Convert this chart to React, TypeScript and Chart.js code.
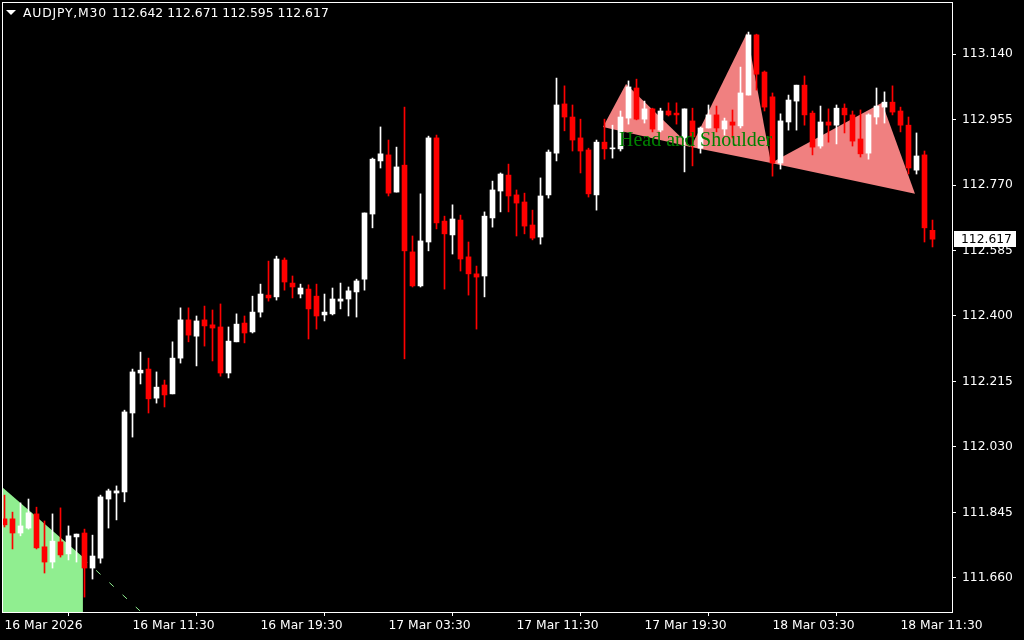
import React, { useEffect, useRef } from "react";
import { Chart, registerables } from "chart.js";

Chart.register(...registerables);

const symbolTitle = "AUDJPY,M30";

// M30 candles, 16 Mar 2026 03:30 -> 18 Mar 2026 13:30
const barOpen = [
  111.827, 111.827, 111.787, 111.801, 111.841, 111.748, 111.705, 111.762, 111.728, 111.776,
  111.787, 111.688, 111.716, 111.883, 111.900, 111.903, 112.126, 112.239, 112.250, 112.168,
  112.205, 112.180, 112.281, 112.389, 112.343, 112.389, 112.375, 112.369, 112.239, 112.327,
  112.380, 112.355, 112.411, 112.459, 112.454, 112.558, 112.493, 112.462, 112.476, 112.456,
  112.403, 112.406, 112.442, 112.448, 112.468, 112.504, 112.688, 112.838, 112.855, 112.750,
  112.826, 112.581, 112.485, 112.609, 112.903, 112.668, 112.629, 112.671, 112.567, 112.519,
  112.513, 112.677, 112.753, 112.798, 112.742, 112.722, 112.657, 112.623, 112.742, 112.860,
  112.999, 112.962, 112.903, 112.869, 112.742, 112.891, 112.872, 112.872, 112.959, 113.044,
  112.956, 112.985, 112.925, 112.979, 112.973, 112.903, 112.951, 112.874, 112.931, 112.968,
  112.928, 112.948, 112.937, 113.024, 113.194, 113.089, 113.019, 112.832, 112.948, 113.007,
  113.052, 112.973, 112.880, 112.948, 112.939, 112.987, 112.968, 112.900, 112.860, 112.962,
  112.990, 113.004, 112.979, 112.939, 112.812, 112.855, 112.642,
];
const barHigh = [
  111.894, 111.846, 111.872, 111.883, 111.860, 111.821, 111.841, 111.858, 111.807, 111.784,
  111.798, 111.781, 111.894, 111.911, 111.920, 112.134, 112.250, 112.298, 112.281, 112.242,
  112.219, 112.327, 112.423, 112.423, 112.400, 112.428, 112.417, 112.434, 112.369, 112.406,
  112.400, 112.456, 112.490, 112.555, 112.569, 112.564, 112.513, 112.490, 112.488, 112.490,
  112.462, 112.479, 112.493, 112.482, 112.504, 112.691, 112.846, 112.934, 112.897, 112.877,
  112.990, 112.626, 112.745, 112.908, 112.911, 112.682, 112.714, 112.685, 112.609, 112.541,
  112.694, 112.781, 112.804, 112.829, 112.756, 112.747, 112.699, 112.790, 112.869, 113.072,
  113.050, 112.996, 112.956, 112.874, 112.897, 112.956, 112.939, 112.979, 113.064, 113.069,
  113.007, 112.987, 112.987, 113.002, 113.002, 112.985, 112.987, 112.934, 112.996, 112.993,
  112.959, 112.982, 113.103, 113.202, 113.196, 113.092, 113.030, 112.971, 113.024, 113.052,
  113.078, 112.979, 112.993, 112.985, 112.996, 112.999, 112.979, 112.982, 112.971, 113.044,
  113.033, 113.050, 112.990, 112.962, 112.917, 112.866, 112.671,
];
const barLow = [
  111.804, 111.742, 111.779, 111.798, 111.742, 111.674, 111.688, 111.719, 111.711, 111.705,
  111.606, 111.657, 111.702, 111.801, 111.824, 111.875, 112.058, 112.208, 112.126, 112.154,
  112.143, 112.180, 112.267, 112.327, 112.259, 112.315, 112.273, 112.230, 112.225, 112.327,
  112.324, 112.352, 112.397, 112.442, 112.445, 112.473, 112.451, 112.451, 112.335, 112.363,
  112.386, 112.403, 112.420, 112.400, 112.397, 112.473, 112.649, 112.818, 112.739, 112.750,
  112.279, 112.482, 112.482, 112.584, 112.646, 112.476, 112.575, 112.527, 112.459, 112.363,
  112.454, 112.651, 112.694, 112.694, 112.626, 112.632, 112.615, 112.603, 112.733, 112.838,
  112.923, 112.866, 112.804, 112.736, 112.699, 112.843, 112.846, 112.866, 112.942, 112.954,
  112.945, 112.920, 112.920, 112.965, 112.942, 112.807, 112.824, 112.860, 112.931, 112.920,
  112.911, 112.903, 112.931, 113.024, 113.038, 112.979, 112.795, 112.815, 112.925, 112.925,
  112.939, 112.855, 112.874, 112.891, 112.886, 112.917, 112.880, 112.849, 112.843, 112.942,
  112.945, 112.968, 112.920, 112.801, 112.801, 112.609, 112.595,
];
const barClose = [
  111.810, 111.787, 111.807, 111.844, 111.745, 111.705, 111.764, 111.725, 111.779, 111.784,
  111.688, 111.722, 111.889, 111.906, 111.906, 112.129, 112.242, 112.247, 112.166, 112.199,
  112.177, 112.281, 112.389, 112.346, 112.386, 112.372, 112.366, 112.239, 112.329, 112.377,
  112.352, 112.411, 112.462, 112.451, 112.561, 112.496, 112.482, 112.479, 112.420, 112.400,
  112.411, 112.448, 112.448, 112.471, 112.499, 112.691, 112.843, 112.858, 112.747, 112.821,
  112.584, 112.485, 112.612, 112.903, 112.663, 112.632, 112.674, 112.561, 112.519, 112.510,
  112.682, 112.756, 112.801, 112.739, 112.719, 112.654, 112.620, 112.739, 112.863, 112.996,
  112.962, 112.897, 112.866, 112.745, 112.891, 112.872, 112.874, 112.962, 113.047, 112.956,
  112.985, 112.928, 112.979, 112.968, 112.968, 112.985, 112.906, 112.931, 112.968, 112.931,
  112.951, 112.939, 113.030, 113.194, 113.083, 112.990, 112.832, 112.951, 113.010, 113.052,
  112.968, 112.877, 112.948, 112.939, 112.987, 112.968, 112.894, 112.858, 112.968, 112.993,
  113.004, 112.976, 112.939, 112.818, 112.852, 112.649, 112.617,
];

const timeTickIndex = [0, 16, 32, 48, 64, 80, 96, 112];
const timeTickLabels = [
  "16 Mar 2026", "16 Mar 11:30", "16 Mar 19:30", "17 Mar 03:30",
  "17 Mar 11:30", "17 Mar 19:30", "18 Mar 03:30", "18 Mar 11:30",
];
const priceTicks = [111.66, 111.845, 112.03, 112.215, 112.4, 112.585, 112.77, 112.955, 113.14];

// Head and Shoulder pattern vertices (bar index, price)
const patternX = [74.81, 77.69, 85.81, 92.81, 95.81, 109.69, 113.81];
const patternY = [112.934, 113.055, 112.877, 113.199, 112.832, 113.002, 112.745];
const patternLabel = "Head and Shoulder";
const patternLabelX = 76.81;
const patternLabelY = 112.88;

// green channel area (bottom-left) and its dashed continuation
const channelX = [-0.3125, 9.8];
const channelY = [111.917, 111.719];
const dashX = [9.8, 16.94];
const dashY = [111.716, 111.567];

const X_MIN = -0.3125;
const X_MAX = 118.4375;
const Y_MIN = 111.5639;
const Y_MAX = 113.2869;

const BULL = "#ffffff";
const BEAR = "#ff0000";
const FONT = '"DejaVu Sans", sans-serif';

export default function App() {
  const ref = useRef<HTMLCanvasElement>(null);

  useEffect(() => {
    document.body.style.margin = "0";
    document.body.style.background = "#000";
    const canvas = ref.current;
    if (!canvas) return;

    const idx = barOpen.map((_, i) => i);
    const colors = idx.map((i) => (barClose[i] >= barOpen[i] ? BULL : BEAR));

    const overlay = {
      id: "mtOverlay",
      beforeDraw(chart: any) {
        const c = chart.ctx;
        c.save();
        c.fillStyle = "#000";
        c.fillRect(0, 0, chart.width, chart.height);
        c.restore();
      },
      beforeDatasetsDraw(chart: any) {
        const c = chart.ctx;
        const xs = chart.scales.x;
        const ys = chart.scales.y;
        const a = chart.chartArea;
        const px = (v: number) => xs.getPixelForValue(v);
        const py = (v: number) => ys.getPixelForValue(v);
        c.save();
        c.beginPath();
        c.rect(a.left, a.top, a.right - a.left, a.bottom - a.top);
        c.clip();
        // green area
        c.fillStyle = "#90ee90";
        c.beginPath();
        c.moveTo(px(channelX[0]), py(channelY[0]));
        c.lineTo(px(channelX[1]), py(channelY[1]));
        c.lineTo(px(channelX[1]), a.bottom + 2);
        c.lineTo(px(channelX[0]), a.bottom + 2);
        c.closePath();
        c.fill();
        // dashed line
        c.strokeStyle = "#90ee90";
        c.lineWidth = 1;
        c.setLineDash([6, 12]);
        c.beginPath();
        c.moveTo(px(dashX[0]), py(dashY[0]));
        c.lineTo(px(dashX[1]), py(dashY[1]));
        c.stroke();
        c.setLineDash([]);
        // triangles
        c.fillStyle = "#f08080";
        for (let t = 0; t < 3; t++) {
          const k = t * 2;
          c.beginPath();
          c.moveTo(px(patternX[k]), py(patternY[k]));
          c.lineTo(px(patternX[k + 1]), py(patternY[k + 1]));
          c.lineTo(px(patternX[k + 2]), py(patternY[k + 2]));
          c.closePath();
          c.fill();
        }
        c.restore();
      },
      afterDatasetsDraw(chart: any) {
        const c = chart.ctx;
        const xs = chart.scales.x;
        const ys = chart.scales.y;
        c.save();
        c.font = '20px "Liberation Serif", serif';
        c.fillStyle = "#008000";
        c.textBaseline = "alphabetic";
        c.textAlign = "left";
        c.fillText(patternLabel, xs.getPixelForValue(patternLabelX), ys.getPixelForValue(patternLabelY));
        c.restore();
      },
      afterDraw(chart: any) {
        const c = chart.ctx;
        const a = chart.chartArea;
        const ys = chart.scales.y;
        c.save();
        // frame
        c.strokeStyle = "#ffffff";
        c.lineWidth = 1;
        c.strokeRect(a.left + 0.5, a.top + 0.5, a.right - a.left, a.bottom - a.top);
        // header
        c.fillStyle = "#ffffff";
        c.beginPath();
        c.moveTo(6, 10);
        c.lineTo(16, 10);
        c.lineTo(11, 15);
        c.closePath();
        c.fill();
        c.font = "12.4px " + FONT;
        c.textBaseline = "middle";
        c.textAlign = "left";
        const last = barOpen.length - 1;
        (c as any).letterSpacing = "0.8px";
        c.fillText(symbolTitle, 23, 13.5);
        (c as any).letterSpacing = "0px";
        const vals = [barOpen[last], barHigh[last], barLow[last], barClose[last]].map((v) => v.toFixed(3));
        c.fillText(vals.join(" "), 112, 13.5);
        // current price box
        const yp = Math.round(ys.getPixelForValue(barClose[last]));
        c.fillStyle = "#ffffff";
        c.fillRect(954, yp - 8, 62, 16);
        c.fillStyle = "#000000";
        c.font = "12.3px " + FONT;
        c.fillText(barClose[last].toFixed(3), 961, yp + 0.5);
        c.restore();
      },
    };

    const chart = new Chart(canvas, {
      type: "bar",
      data: {
        datasets: [
          {
            label: "wick",
            data: idx.map((i) => ({ x: i, y: [barLow[i], barHigh[i]] })) as any,
            backgroundColor: colors,
            barThickness: 1,
            grouped: false,
            borderWidth: 0,
            minBarLength: 1,
          } as any,
          {
            label: "body",
            data: idx.map((i) => ({ x: i, y: [barOpen[i], barClose[i]] })) as any,
            backgroundColor: colors,
            barThickness: 5,
            grouped: false,
            borderWidth: 0,
            minBarLength: 1,
          } as any,
        ],
      },
      options: {
        animation: false,
        responsive: false,
        devicePixelRatio: 1,
        events: [],
        layout: { padding: { left: 2, top: 2, right: 0, bottom: 0 } },
        plugins: { legend: { display: false }, tooltip: { enabled: false } },
        scales: {
          x: {
            type: "linear",
            position: "bottom",
            min: X_MIN,
            max: X_MAX,
            offset: false,
            border: { display: false },
            grid: {
              display: true,
              drawOnChartArea: false,
              drawTicks: true,
              tickLength: 4,
              color: (ctx: any) => (ctx.index === 0 ? "rgba(0,0,0,0)" : "#ffffff"),
            },
            ticks: {
              color: "#ffffff",
              font: { family: FONT, size: 12.3 },
              padding: 2,
              align: "start",
              maxRotation: 0,
              minRotation: 0,
              autoSkip: false,
              callback: (v: any) => {
                const k = timeTickIndex.indexOf(Number(v));
                return k >= 0 ? timeTickLabels[k] : "";
              },
            },
            afterBuildTicks: (s: any) => {
              s.ticks = timeTickIndex.map((v) => ({ value: v }));
            },
            afterFit: (s: any) => {
              s.height = 28;
              s.paddingLeft = 0;
              s.paddingRight = 0;
            },
          } as any,
          y: {
            type: "linear",
            position: "right",
            min: Y_MIN,
            max: Y_MAX,
            border: { display: false },
            grid: {
              display: true,
              drawOnChartArea: false,
              drawTicks: true,
              tickLength: 4,
              color: "#ffffff",
            },
            ticks: {
              color: "#ffffff",
              font: { family: FONT, size: 12.3 },
              padding: 6,
              autoSkip: false,
              callback: (v: any) => Number(v).toFixed(3),
            },
            afterBuildTicks: (s: any) => {
              s.ticks = priceTicks.map((v) => ({ value: v }));
            },
            afterFit: (s: any) => {
              s.width = 72;
              s.paddingTop = 0;
              s.paddingBottom = 0;
            },
          } as any,
        },
      },
      plugins: [overlay],
    });

    return () => chart.destroy();
  }, []);

  return <canvas ref={ref} width={1024} height={640} style={{ display: "block" }} />;
}
